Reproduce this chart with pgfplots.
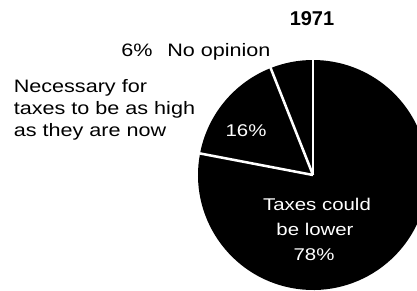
\documentclass[border=0pt]{standalone}
\usepackage{pgfplots}
\pgfplotsset{compat=1.18}
\usepackage{pgfplotstable}
\usepackage{fontspec}
\setmainfont{Liberation Sans}[FakeStretch=1.2]
\newfontfamily\titlefont{Liberation Sans}

\pgfplotstableread{
share
6
16
78
}\pietable
\pgfplotstablegetelem{0}{share}\of\pietable \let\sA\pgfplotsretval
\pgfplotstablegetelem{1}{share}\of\pietable \let\sB\pgfplotsretval
\pgfplotstablegetelem{2}{share}\of\pietable \let\sC\pgfplotsretval
\pgfmathsetmacro\aA{90}
\pgfmathsetmacro\aB{\aA+3.6*\sA}
\pgfmathsetmacro\aC{\aB+3.6*\sB}
\pgfmathsetmacro\aD{\aC+3.6*\sC}

\begin{document}%
\begin{tikzpicture}
\begin{axis}[
  scale only axis, width=312.75pt, height=217.5pt,
  xmin=0, xmax=417, ymin=0, ymax=290,
  hide axis, clip=true,
]
\addplot[draw=none] coordinates {(0,0) (417,290)};
\coordinate (BL) at (axis cs:0,0);
\coordinate (TR) at (axis cs:417,290);
% wedges
\fill[black] (axis cs:313,115) -- ++(\aA:86.25pt) arc[start angle=\aA, end angle=\aB, radius=86.25pt] -- cycle;
\fill[black] (axis cs:313,115) -- ++(\aB:86.25pt) arc[start angle=\aB, end angle=\aC, radius=86.25pt] -- cycle;
\fill[black] (axis cs:313,115) -- ++(\aC:86.25pt) arc[start angle=\aC, end angle=\aD, radius=86.25pt] -- cycle;
% separators
\draw[white, line width=1.9pt] (axis cs:313,115) -- ++(\aA:88pt);
\draw[white, line width=1.9pt] (axis cs:313,115) -- ++(\aB:88pt);
\draw[white, line width=1.9pt] (axis cs:313,115) -- ++(\aC:88pt);
% labels
\node[anchor=base, inner sep=0pt, font=\titlefont\bfseries\fontsize{15}{18}\selectfont] at (axis cs:312,265) {1971};
\node[anchor=base west, inner sep=0pt, font=\fontsize{13.5}{16.5}\selectfont] at (axis cs:121,234) {6\%};
\node[anchor=base west, inner sep=0pt, font=\fontsize{13.5}{16.5}\selectfont] at (axis cs:167,234) {No opinion};
\node[anchor=base west, inner sep=0pt, font=\fontsize{13.5}{16.5}\selectfont] at (axis cs:13.5,198) {Necessary for};
\node[anchor=base west, inner sep=0pt, font=\fontsize{13.5}{16.5}\selectfont] at (axis cs:13.5,176) {taxes to be as high};
\node[anchor=base west, inner sep=0pt, font=\fontsize{13.5}{16.5}\selectfont] at (axis cs:13.5,154) {as they are now};
\node[anchor=base, inner sep=0pt, text=white, font=\fontsize{12.75}{15}\selectfont] at (axis cs:246,153.5) {16\%};
\node[anchor=base, inner sep=0pt, text=white, font=\fontsize{12.75}{15}\selectfont] at (axis cs:317,80) {Taxes could};
\node[anchor=base, inner sep=0pt, text=white, font=\fontsize{12.75}{15}\selectfont] at (axis cs:315,55) {be lower};
\node[anchor=base, inner sep=0pt, text=white, font=\fontsize{12.75}{15}\selectfont] at (axis cs:314,30) {78\%};
\end{axis}
\pgfresetboundingbox
\path (BL) rectangle (TR);
\end{tikzpicture}%
\end{document}
